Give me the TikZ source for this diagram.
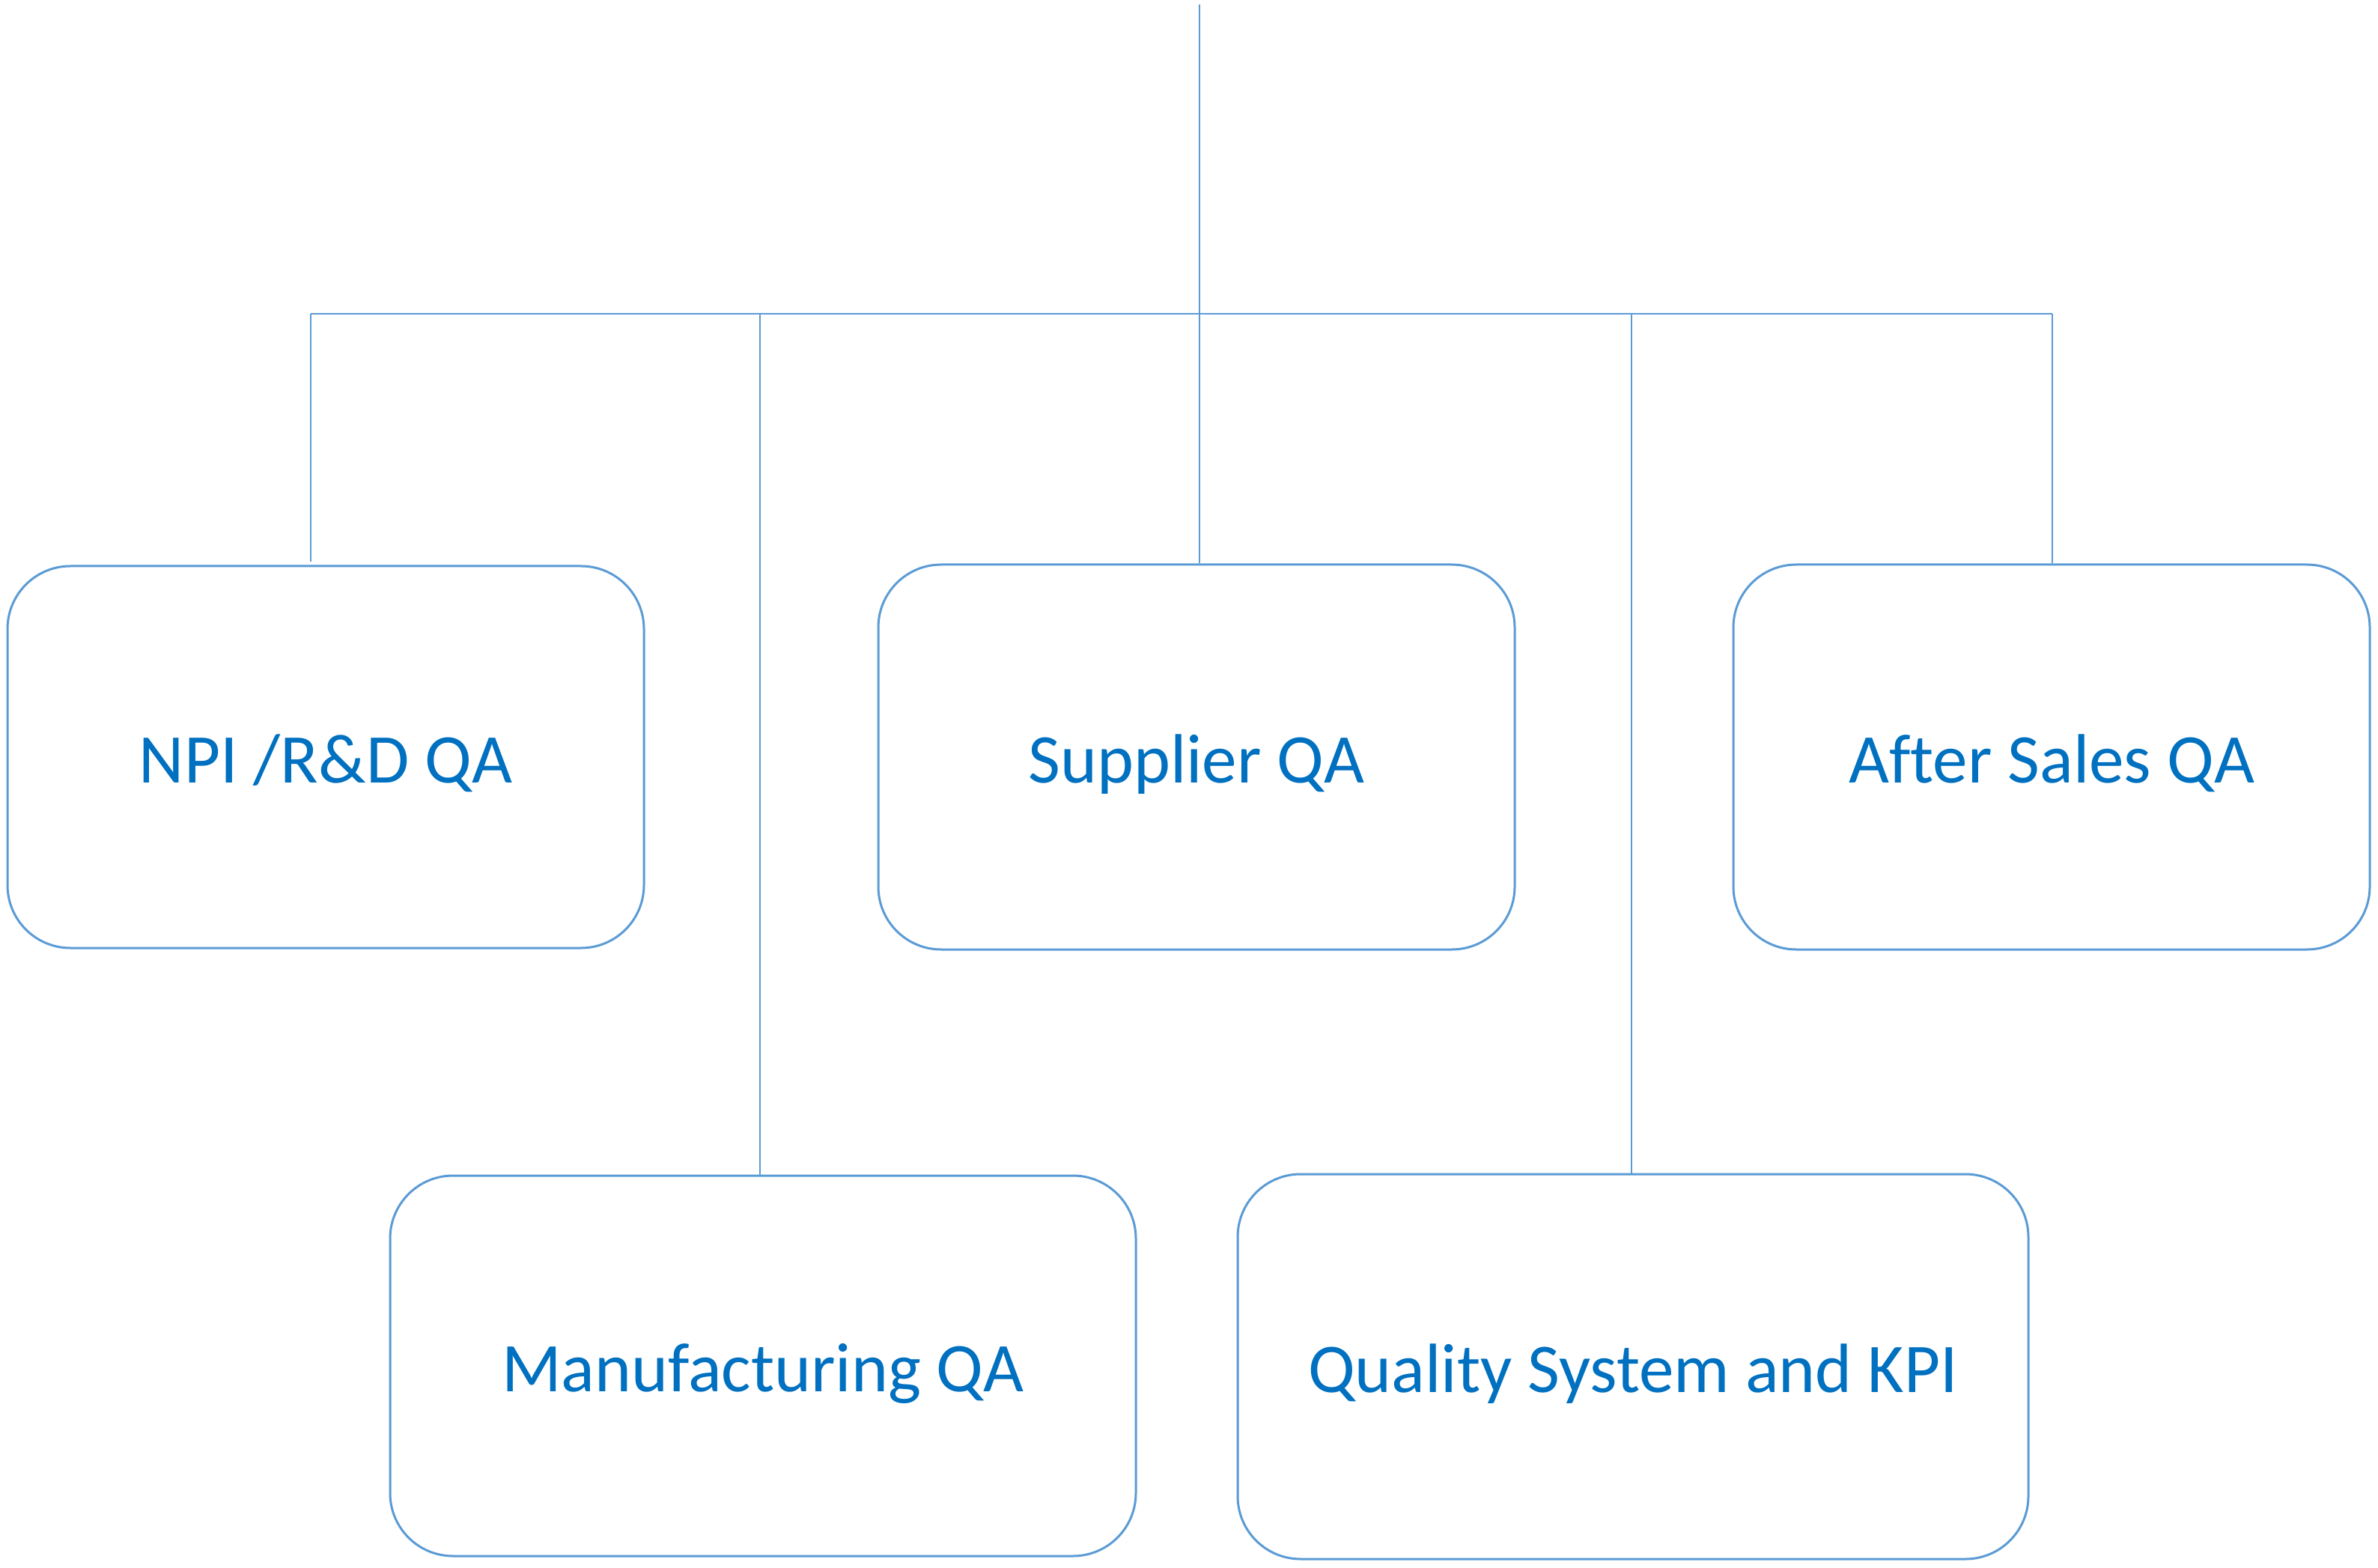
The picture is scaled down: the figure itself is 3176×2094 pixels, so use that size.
\documentclass[tikz,border=0pt]{standalone}
\usepackage{fontspec}
\setmainfont{Carlito}[Ligatures=NoCommon]
\definecolor{linkblue}{HTML}{5B9BD5}
\definecolor{textblue}{HTML}{0070C0}
\tikzset{
  qabox/.style={draw=linkblue, line width=0.75pt, rounded corners=21pt, fill=white,
    text=textblue, font=\fontsize{23.3}{28}\selectfont, inner sep=0pt,
    text height=17pt, text depth=0pt},
  link/.style={draw=linkblue, line width=0.5pt}
}
\begin{document}
\begin{tikzpicture}[x=0.25pt, y=-0.25pt]
\useasboundingbox (0,0) rectangle (3176,2094);

% Boxes
\node[qabox, minimum width=212.5pt, minimum height=127.5pt] (npi) at (435,1011) {NPI /R\&D QA};
\node[qabox, minimum width=212.5pt, minimum height=128.5pt] (supplier) at (1598,1011) {Supplier QA};
\node[qabox, minimum width=212.5pt, minimum height=128.5pt] (aftersales) at (2740,1011) {After Sales QA};
\node[qabox, minimum width=249pt, minimum height=127pt] (manuf) at (1019,1824) {Manufacturing QA};
\node[qabox, minimum width=264pt, minimum height=128.5pt] (quality) at (2181,1825) {Quality System and KPI};

% Bus
\coordinate (root) at (1602,6);
\coordinate (busL) at (415,419);
\coordinate (busR) at (2741,419);
\draw[link] (busL) -- (busR);
\draw[link] (root) -- (root |- supplier.north);

% Drops
\draw[link] (busL) -- ([yshift=1pt]busL |- npi.north);
\draw[link] (1015,419) -- (1015,419 |- manuf.north);
\draw[link] (2179,419) -- (2179,419 |- quality.north);
\draw[link] (busR) -- (busR |- aftersales.north);
\end{tikzpicture}
\end{document}
